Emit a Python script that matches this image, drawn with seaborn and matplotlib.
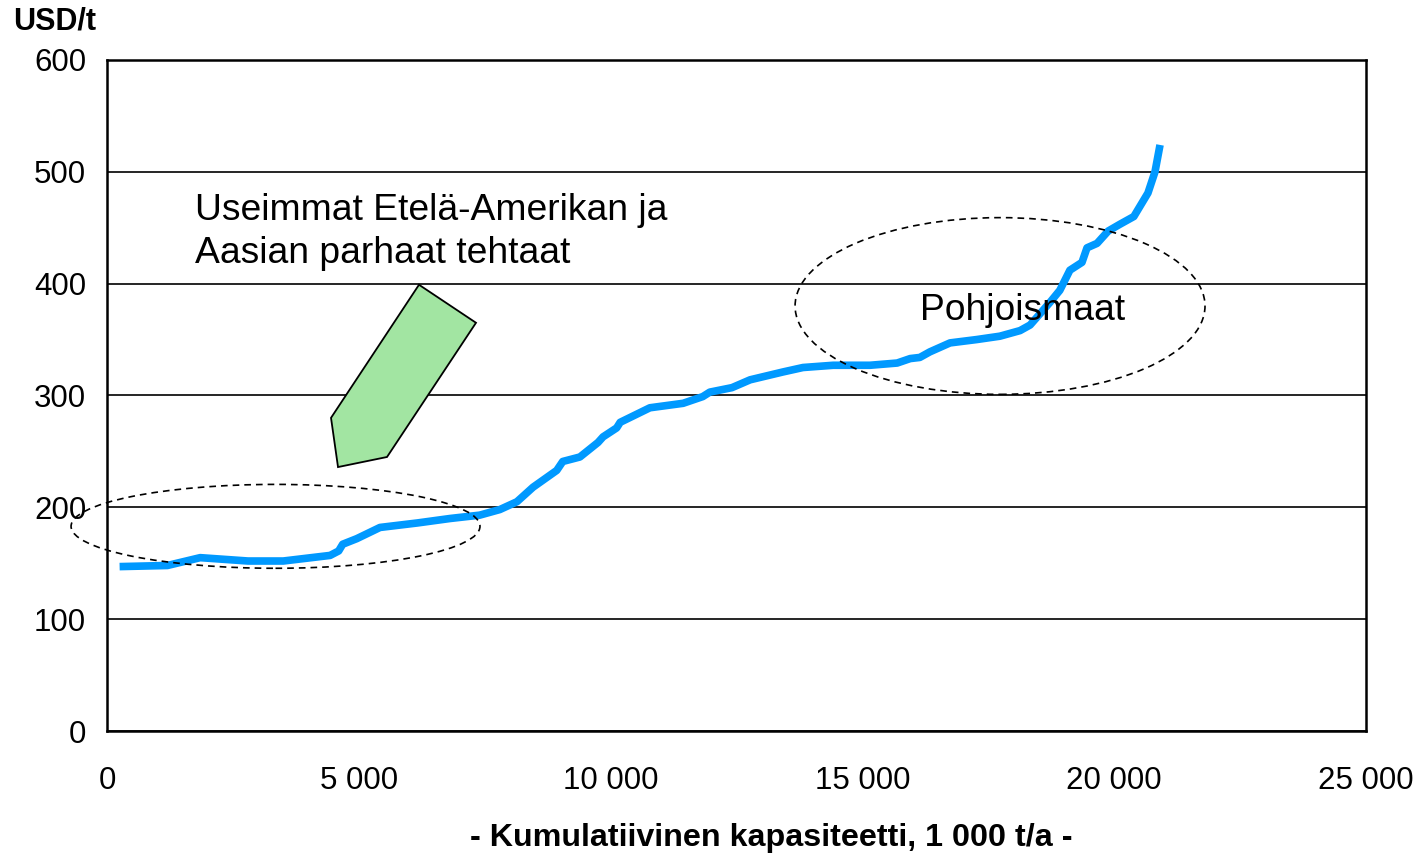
import pandas as pd
import matplotlib.pyplot as plt
import seaborn as sns
from matplotlib.patches import Ellipse, Polygon

# Cost curve (cumulative capacity 1 000 t/a, USD/t)
capacity = [250, 1200, 1850, 2800, 3500, 4430, 4600, 4680, 4960, 5420, 6160, 6810,
            7400, 7800, 8140, 8460, 8930, 9050, 9390, 9750, 9850, 10120, 10190,
            10780, 11440, 11830, 11970, 12410, 12770, 13420, 13820, 14420, 15150,
            15690, 15950, 16140, 16340, 16740, 17270, 17730, 18130, 18330, 18720,
            18920, 19120, 19360, 19460, 19660, 19880, 20110, 20390, 20670, 20810,
            20910]
cost = [147, 148, 155, 152, 152, 157, 161, 167, 172, 182, 186, 190,
        193, 198, 205, 218, 233, 241, 245, 258, 263, 271, 276,
        289, 293, 299, 303, 307, 314, 321, 325, 327, 327,
        329, 333, 334, 339, 347, 350, 353, 358, 363, 383,
        394, 412, 419, 432, 436, 447, 453, 460, 481, 500,
        524]

x_ticks = [0, 5000, 10000, 15000, 20000, 25000]
x_ticklabels = ['0', '5 000', '10 000', '15 000', '20 000', '25 000']
y_ticks = [0, 100, 200, 300, 400, 500, 600]

df = pd.DataFrame({'kapasiteetti': capacity, 'kustannus': cost})

sns.set_style('white')
plt.rcParams['font.family'] = ['Liberation Sans', 'DejaVu Sans']
plt.rcParams['text.color'] = 'black'
plt.rcParams['xtick.color'] = 'black'
plt.rcParams['ytick.color'] = 'black'

fig = plt.figure(figsize=(14.25, 8.56), dpi=100)
ax = fig.add_axes([0.0751, 0.146, 0.8835, 0.784])

sns.lineplot(data=df, x='kapasiteetti', y='kustannus', ax=ax, color='#0099ff',
             linewidth=5.5, sort=False, estimator=None, solid_capstyle='butt',
             solid_joinstyle='round', zorder=3)

ax.set_xlim(0, 25000)
ax.set_ylim(0, 600)
ax.set_xticks(x_ticks)
ax.set_xticklabels(x_ticklabels)
ax.set_yticks(y_ticks)
ax.tick_params(axis='x', direction='in', length=8, width=1.2, pad=25, labelsize=22.5)
ax.tick_params(axis='y', length=0, pad=15, labelsize=22.5)
ax.yaxis.grid(True, color='black', linewidth=1.2)
ax.set_axisbelow(True)
for s in ax.spines.values():
    s.set_visible(True)
    s.set_color('black')
    s.set_linewidth(1.8)
ax.set_xlabel('')
ax.set_ylabel('')

# dashed ellipses
ax.add_patch(Ellipse((3346, 183), 8120, 75, fill=False, edgecolor='black',
                     linestyle=(0, (4, 3)), linewidth=1.2, clip_on=False, zorder=4))
ax.add_patch(Ellipse((17733, 380), 8140, 158, fill=False, edgecolor='black',
                     linestyle=(0, (4, 3)), linewidth=1.2, clip_on=False, zorder=4))

# green arrow
arrow_pts = [(6195, 399), (7327, 365), (5560, 245), (4587, 236), (4448, 280)]
ax.add_patch(Polygon(arrow_pts, closed=True, facecolor='#a2e5a2', edgecolor='black',
                     linewidth=1.3, zorder=4))

ax.text(1747, 446, 'Useimmat Etelä-Amerikan ja\nAasian parhaat tehtaat',
        fontsize=26.8, va='center', ha='left', linespacing=1.3, zorder=5)
ax.text(16144, 376, 'Pohjoismaat', fontsize=26.8, va='center', ha='left', zorder=5)

fig.text(13 / 1425, 1 - 22 / 856, 'USD/t', fontsize=22, fontweight='bold',
         ha='left', va='center')
fig.text(771 / 1425, 1 - 838 / 856, '- Kumulatiivinen kapasiteetti, 1 000 t/a -',
         fontsize=23.2, fontweight='bold', ha='center', va='center')

fig.savefig('out.png', dpi=100)
